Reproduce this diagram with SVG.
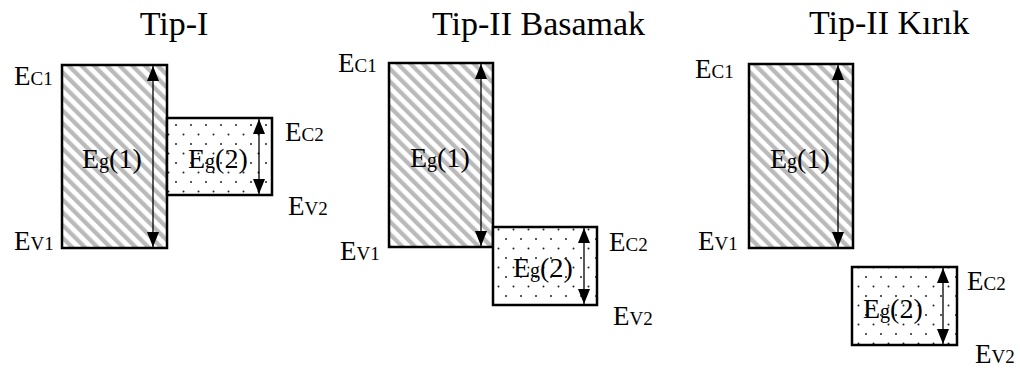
<svg xmlns="http://www.w3.org/2000/svg" width="1020" height="369" viewBox="0 0 1020 369">
<style>
.t{font-family:"Liberation Serif","Times New Roman",serif;fill:#000}
.title{font-size:34px}
.lb{font-size:27px}
.sm{font-size:19px}
.g{font-size:20px}
.eg{font-size:28px}
.box{stroke:#000;stroke-width:2.5}
.hat{fill:url(#hatch)}
.dot{fill:url(#dots)}
.arr{stroke:#000;stroke-width:1.3;fill:none;marker-start:url(#ah);marker-end:url(#ah)}
</style>
<defs>
<pattern id="hatch" patternUnits="userSpaceOnUse" width="9" height="10" patternTransform="rotate(-45)">
<rect width="9" height="10" fill="#fff"/>
<rect x="0" y="0" width="4.3" height="10" fill="#bababa"/>
</pattern>
<pattern id="dots" patternUnits="userSpaceOnUse" width="15" height="19">
<rect width="15" height="19" fill="#fff"/>
<circle cx="3.5" cy="1.5" r="1" fill="#222"/>
<circle cx="11" cy="11" r="1" fill="#222"/>
</pattern>
<marker id="ah" markerUnits="userSpaceOnUse" markerWidth="16" markerHeight="12" viewBox="0 0 16 12" refX="15" refY="6" orient="auto-start-reverse">
<path d="M0,0 L15,6 L0,12 Z" fill="#000"/>
</marker>
</defs>

<text class="t title" x="174" y="35" text-anchor="middle">Tip-I</text>
<text class="t title" x="432" y="35">Tip-II Basamak</text>
<text class="t title" x="809" y="34">Tip-II Kırık</text>

<g id="p1-band1">
<rect class="box hat" x="62" y="65" width="105" height="183"/>
<text class="t eg" x="82" y="168">E<tspan class="g">g</tspan>(1)</text>
</g>
<g id="p1-band2">
<rect class="box dot" x="167" y="118" width="105" height="77"/>
<text class="t eg" x="188" y="168">E<tspan class="g">g</tspan>(2)</text>
</g>
<g id="p1-labels">
<text class="t lb" x="14" y="85">E<tspan class="sm">C1</tspan></text>
<text class="t lb" x="14" y="250">E<tspan class="sm">V1</tspan></text>
<text class="t lb" x="285" y="141">E<tspan class="sm">C2</tspan></text>
<text class="t lb" x="288" y="215">E<tspan class="sm">V2</tspan></text>
</g>

<g id="p2-band1">
<rect class="box hat" x="389" y="63" width="104" height="184"/>
<text class="t eg" x="410" y="167">E<tspan class="g">g</tspan>(1)</text>
</g>
<g id="p2-band2">
<rect class="box dot" x="493" y="227" width="104" height="78"/>
<text class="t eg" x="513" y="277">E<tspan class="g">g</tspan>(2)</text>
</g>
<g id="p2-labels">
<text class="t lb" x="338" y="72">E<tspan class="sm">C1</tspan></text>
<text class="t lb" x="340" y="260">E<tspan class="sm">V1</tspan></text>
<text class="t lb" x="609" y="251">E<tspan class="sm">C2</tspan></text>
<text class="t lb" x="613" y="325">E<tspan class="sm">V2</tspan></text>
</g>

<g id="p3-band1">
<rect class="box hat" x="749" y="64" width="104" height="184"/>
<text class="t eg" x="770" y="168">E<tspan class="g">g</tspan>(1)</text>
</g>
<g id="p3-band2">
<rect class="box dot" x="852" y="267" width="105" height="78"/>
<text class="t eg" x="863" y="318">E<tspan class="g">g</tspan>(2)</text>
</g>
<g id="p3-labels">
<text class="t lb" x="695" y="78">E<tspan class="sm">C1</tspan></text>
<text class="t lb" x="698" y="250">E<tspan class="sm">V1</tspan></text>
<text class="t lb" x="967" y="290">E<tspan class="sm">C2</tspan></text>
<text class="t lb" x="975" y="363">E<tspan class="sm">V2</tspan></text>
</g>

<g id="connectors">
<line class="arr" x1="153" y1="66" x2="153" y2="247"/>
<line class="arr" x1="259" y1="119" x2="259" y2="194"/>
<line class="arr" x1="481" y1="64" x2="481" y2="246"/>
<line class="arr" x1="584" y1="228" x2="584" y2="304"/>
<line class="arr" x1="838" y1="65" x2="838" y2="247"/>
<line class="arr" x1="943" y1="268" x2="943" y2="344"/>
</g>
</svg>
